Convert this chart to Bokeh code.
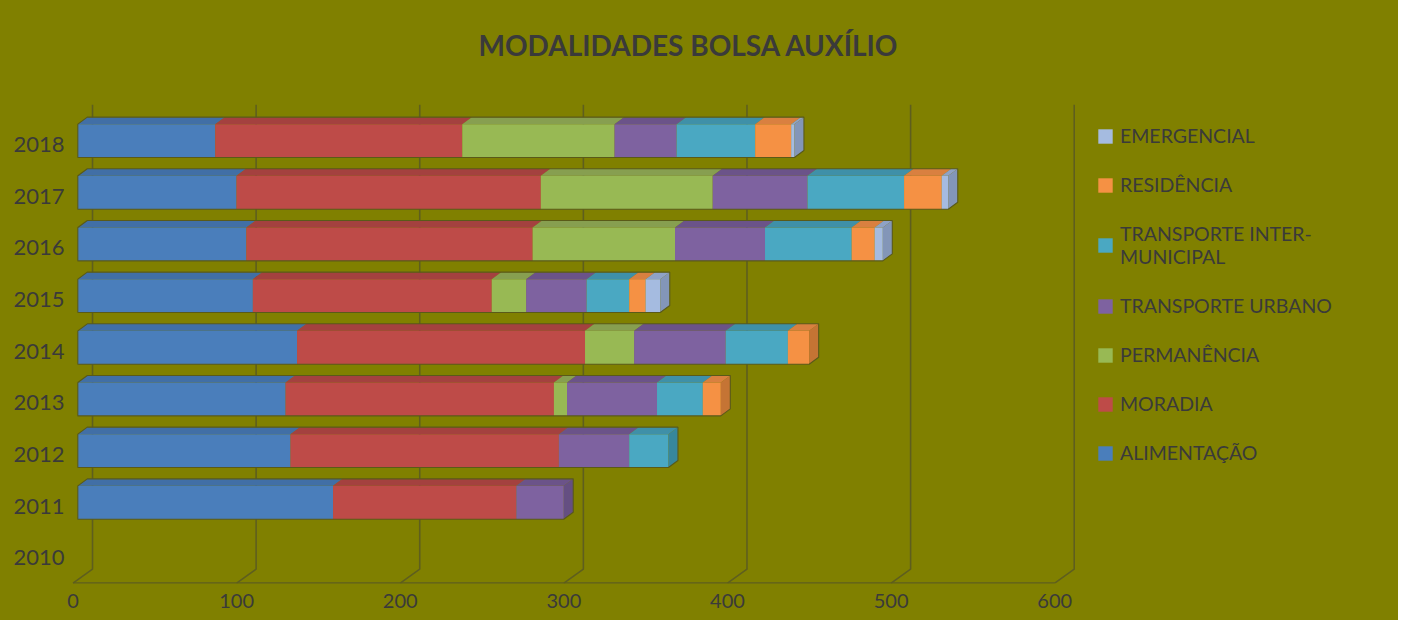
from bokeh.plotting import figure
from bokeh.models import Range1d, LinearAxis, FixedTicker, Legend, LegendItem
from bokeh.embed import file_html
from bokeh.resources import INLINE

# ---------------- data ----------------
years = ["2010", "2011", "2012", "2013", "2014", "2015", "2016", "2017", "2018"]
alimentacao = [0, 156, 130, 127, 134, 107, 103, 97, 84]
moradia = [0, 112, 164, 164, 176, 146, 175, 186, 151]
permanencia = [0, 0, 0, 8, 30, 21, 87, 105, 93]
transporte_urbano = [0, 29, 43, 55, 56, 37, 55, 58, 38]
transporte_inter = [0, 0, 24, 28, 38, 26, 53, 59, 48]
residencia = [0, 0, 0, 11, 13, 10, 14, 23, 22]
emergencial = [0, 0, 0, 0, 0, 9, 5, 4, 2]
series_names = ["ALIMENTAÇÃO", "MORADIA", "PERMANÊNCIA", "TRANSPORTE URBANO",
                "TRANSPORTE INTER-\nMUNICIPAL", "RESIDÊNCIA", "EMERGENCIAL"]
x_ticks = [0, 100, 200, 300, 400, 500, 600]
title_text = "MODALIDADES BOLSA AUXÍLIO"

series_values = [alimentacao, moradia, permanencia, transporte_urbano,
                 transporte_inter, residencia, emergencial]
front_colors = ["#4a7ebb", "#be4b48", "#98b954", "#7e62a0", "#4aa8c2", "#f59144", "#a5bbe0"]
top_colors = ["#416fa6", "#a4413f", "#879f50", "#6b5389", "#3f90a8", "#d98040", "#8fa2c6"]
side_colors = ["#3a6496", "#983c3a", "#7d9945", "#654f82", "#37879c", "#c57434", "#8396b8"]

FONT = "Lato"
BG = "#808000"
TXT = "#3a3a3a"
GRID = "#5e5e1e"

# ---------------- geometry (pixels -> data units) ----------------
W, H = 1398, 620
ML, MR, MT, MB = 68, 0, 84, 37
FW, FH = W - ML - MR, H - MT - MB
PXX = 1.6362        # px per value unit
PXY = 51.67         # px per category
x_start = -9.3 / PXX
y_start = -0.567
x_range = Range1d(x_start, x_start + FW / PXX)
y_range = Range1d(y_start, y_start + FH / PXY)

DX = 9.5 / PXX        # depth offset x
DY = 7.0 / PXY        # depth offset y
HALF = 16.7 / PXY     # half bar height
BACK = 14.7 / PXX     # back wall shift
FLOOR = -4.8 / PXX    # front floor shift
y_grid_top = y_start + (H - MB - 104.3) / PXY
y_back_bot = y_start + 14.3 / PXY
y_floor = y_start + 0.4 / PXY

p = figure(width=W, height=H, x_range=x_range, y_range=y_range,
           x_axis_type=None, y_axis_type=None,
           output_backend="svg", toolbar_location=None,
           min_border_left=ML, min_border_right=MR, min_border_top=MT, min_border_bottom=MB,
           background_fill_color=BG, border_fill_color=BG, outline_line_color=None)
p.styles = {"background-color": BG}
p.grid.visible = False

# ---------------- walls / grid ----------------
gx, gy = [], []
for v in x_ticks:
    gx.append([v + BACK, v + BACK, v + FLOOR])
    gy.append([y_grid_top, y_back_bot, y_floor])
gx.append([x_ticks[0] + FLOOR, x_ticks[-1] + FLOOR])
gy.append([y_floor, y_floor])
p.multi_line(gx, gy, line_color=GRID, line_width=1.6)

# ---------------- bars ----------------
n = len(years)
cum = [0.0] * n
legend_map = {}
last_idx = [None] * n
for s, vals in enumerate(series_values):
    left, right, bottom, top = [], [], [], []
    txs, tys = [], []
    for i in range(n):
        v = vals[i]
        if v > 0:
            L, R = cum[i], cum[i] + v
            left.append(L); right.append(R)
            bottom.append(i - HALF); top.append(i + HALF)
            txs.append([L, R, R + DX, L + DX])
            tys.append([i + HALF, i + HALF, i + HALF + DY, i + HALF + DY])
            cum[i] = R
            last_idx[i] = s
    r = p.quad(left=left, right=right, bottom=bottom, top=top,
               fill_color=front_colors[s], line_color=None)
    p.patches(txs, tys, fill_color=top_colors[s], line_color=None)
    legend_map[s] = r

# side faces at the end of each row + row outline
sxs, sys_, scol = [], [], []
oxs, oys = [], []
for i in range(n):
    if last_idx[i] is None:
        continue
    R = cum[i]
    sxs.append([R, R, R + DX, R + DX])
    sys_.append([i - HALF, i + HALF, i + HALF + DY, i - HALF + DY])
    scol.append(side_colors[last_idx[i]])
    oxs.append([0, 0, DX, R + DX, R + DX, R])
    oys.append([i - HALF, i + HALF, i + HALF + DY, i + HALF + DY, i - HALF + DY, i - HALF])
p.patches(sxs, sys_, fill_color=scol, line_color=None)
p.patches(oxs, oys, fill_alpha=0, line_color="#5a5a18", line_width=1.1)

# ---------------- axes ----------------
p.extra_x_ranges = {"floor": Range1d(x_range.start - FLOOR, x_range.end - FLOOR)}
shift = 3.5 / PXY
p.extra_y_ranges = {"cats": Range1d(y_range.start + shift, y_range.end + shift)}

xa = LinearAxis(x_range_name="floor", ticker=FixedTicker(ticks=x_ticks))
xa.axis_line_color = None
xa.major_tick_line_color = None
xa.minor_tick_line_color = None
xa.major_tick_out = 0
xa.major_label_text_font = FONT
xa.major_label_text_font_size = "20px"
xa.major_label_text_color = TXT
xa.major_label_standoff = 10
p.add_layout(xa, "below")

ya = LinearAxis(y_range_name="cats", ticker=FixedTicker(ticks=list(range(n))))
ya.major_label_overrides = {i: y for i, y in enumerate(years)}
ya.axis_line_color = None
ya.major_tick_line_color = None
ya.minor_tick_line_color = None
ya.major_tick_out = 0
ya.major_label_text_font = FONT
ya.major_label_text_font_size = "22px"
ya.major_label_text_color = TXT
ya.major_label_standoff = 4
p.add_layout(ya, "left")

# ---------------- title ----------------
p.title.text = title_text
p.title.text_font = FONT
p.title.text_font_style = "bold"
p.title.text_font_size = "28px"
p.title.text_color = TXT
p.title.align = "left"
p.title.offset = 410
p.title.standoff = 46

# ---------------- legend ----------------
items = [LegendItem(label=series_names[s], renderers=[legend_map[s]])
         for s in reversed(range(len(series_names)))]
legend = Legend(items=items, location=(1028, 119))
legend.border_line_color = None
legend.background_fill_alpha = 0
legend.padding = 0
legend.margin = 0
legend.glyph_width = 18
legend.glyph_height = 18
legend.label_standoff = 6
legend.spacing = 26
legend.label_text_font = FONT
legend.label_text_font_size = "19.5px"
legend.label_text_color = TXT
p.add_layout(legend, "center")

open("out.html", "w").write(file_html(p, INLINE))
